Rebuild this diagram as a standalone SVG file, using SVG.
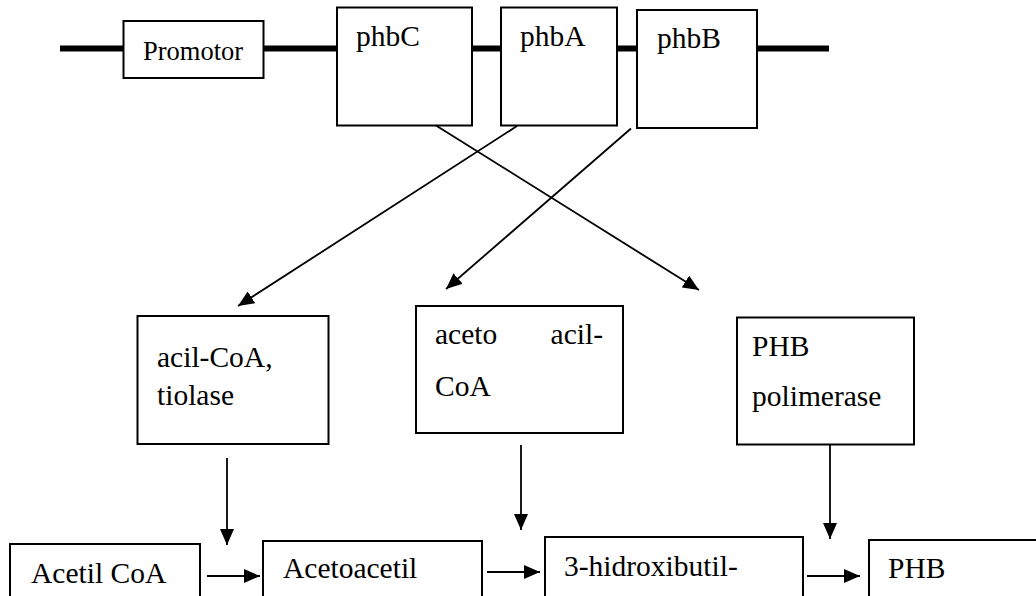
<svg xmlns="http://www.w3.org/2000/svg" width="1036" height="596" viewBox="0 0 1036 596">
<style>
.box{fill:#fff;stroke:#000;stroke-width:2}
.t{font-family:"Liberation Serif","Times New Roman",serif;font-size:29.5px;fill:#000}
.ts{font-family:"Liberation Serif","Times New Roman",serif;font-size:26.5px;fill:#000}
.c{stroke:#000;stroke-width:1.8;fill:none;marker-end:url(#ah)}
</style>
<defs>
<marker id="ah" markerUnits="userSpaceOnUse" markerWidth="16" markerHeight="14" refX="16" refY="7" orient="auto">
<path d="M0,0 L16,7 L0,14 z" fill="#000"/>
</marker>
</defs>
<rect width="1036" height="596" fill="#fff"/>
<line id="dna" x1="60" y1="48.5" x2="829" y2="48.5" stroke="#000" stroke-width="6"/>
<g id="promotor"><rect class="box" x="123.5" y="21" width="140" height="57"/><text class="ts" x="143" y="59.5">Promotor</text></g>
<g id="phbC"><rect class="box" x="337" y="7.5" width="135" height="118"/><text class="t" x="356" y="46">phbC</text></g>
<g id="phbA"><rect class="box" x="501" y="7.5" width="116" height="118"/><text class="t" x="520" y="45.5">phbA</text></g>
<g id="phbB"><rect class="box" x="637" y="10" width="120" height="118"/><text class="t" x="657" y="48">phbB</text></g>
<g id="tiolase"><rect class="box" x="137.5" y="316" width="191" height="128"/><text class="t" x="157" y="367">acil-CoA,</text><text class="t" x="157" y="405">tiolase</text></g>
<g id="acetoacilcoa"><rect class="box" x="416" y="306" width="207" height="127"/><text class="t" x="435" y="344">aceto</text><text class="t" x="603" y="344" text-anchor="end">acil-</text><text class="t" x="435" y="396">CoA</text></g>
<g id="polimerase"><rect class="box" x="737" y="317.5" width="177" height="127"/><text class="t" x="752" y="356">PHB</text><text class="t" x="752" y="406">polimerase</text></g>
<g id="acetilcoa"><rect class="box" x="10" y="544" width="190" height="80"/><text class="t" x="31" y="583">Acetil CoA</text></g>
<g id="acetoacetil"><rect class="box" x="263" y="541" width="219" height="80"/><text class="t" x="283" y="578">Acetoacetil</text></g>
<g id="hidroxibutil"><rect class="box" x="545" y="537" width="258" height="80"/><text class="t" x="564" y="576">3-hidroxibutil-</text></g>
<g id="phb"><rect class="box" x="869" y="540" width="190" height="80"/><text class="t" x="888" y="578">PHB</text></g>
<g id="connectors">
<line class="c" x1="436" y1="125.5" x2="699" y2="290"/>
<line class="c" x1="517" y1="126" x2="238" y2="306"/>
<line class="c" x1="631" y1="128.5" x2="446" y2="289"/>
<line class="c" x1="227" y1="458" x2="227" y2="545"/>
<line class="c" x1="521" y1="445" x2="521" y2="530"/>
<line class="c" x1="830" y1="444" x2="830" y2="539"/>
<line class="c" x1="207" y1="576" x2="260" y2="576"/>
<line class="c" x1="487" y1="572" x2="540" y2="572"/>
<line class="c" x1="807" y1="576" x2="860" y2="576"/>
</g>
</svg>
